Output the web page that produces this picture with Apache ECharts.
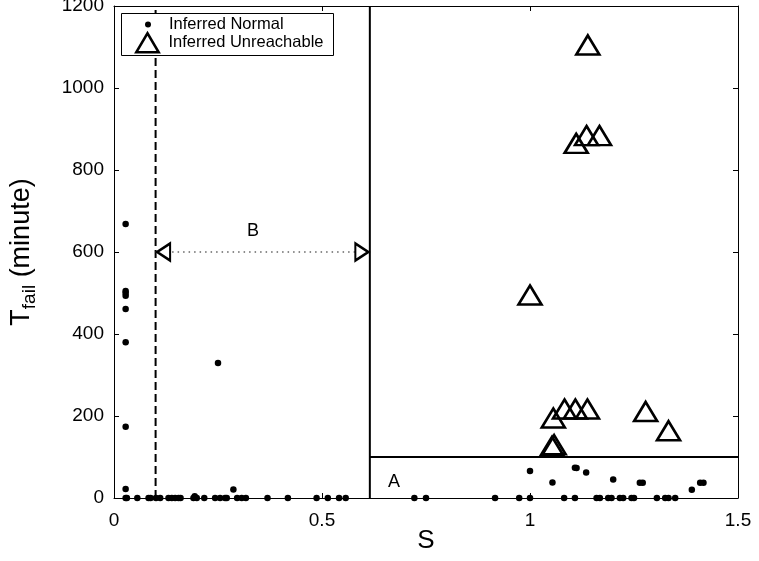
<!DOCTYPE html>
<html>
<head>
<meta charset="utf-8">
<script src="https://cdn.jsdelivr.net/npm/echarts@6/dist/echarts.min.js"></script>
<style>
html,body{margin:0;padding:0;background:#fff;}
#chart{width:759px;height:561px;}
</style>
</head>
<body>
<div id="chart"></div>
<script>
// ---- data ----
const xTicks = [0, 0.5, 1, 1.5];
const yTicks = [0, 200, 400, 600, 800, 1000, 1200];

const normalPoints = [
  [0.028, 668], [0.028, 505], [0.028, 500], [0.028, 493], [0.028, 461],
  [0.028, 380], [0.028, 174], [0.028, 22], [0.028, 0], [0.031, 0],
  [0.25, 329], [0.287, 21], [0.194, 4],
  [0.056, 0], [0.083, 0], [0.088, 0], [0.101, 0], [0.111, 0], [0.131, 0],
  [0.139, 0], [0.147, 0], [0.155, 0], [0.160, 0], [0.191, 0], [0.199, 0],
  [0.217, 0], [0.243, 0], [0.255, 0], [0.267, 0], [0.271, 0], [0.296, 0],
  [0.307, 0], [0.317, 0], [0.369, 0], [0.418, 0], [0.487, 0], [0.514, 0],
  [0.541, 0], [0.557, 0],
  [0.722, 0], [0.75, 0], [0.916, 0], [0.974, 0], [1.0, 0], [1.082, 0],
  [1.108, 0], [1.160, 0], [1.168, 0], [1.188, 0], [1.196, 0], [1.216, 0],
  [1.224, 0], [1.244, 0], [1.25, 0], [1.305, 0], [1.325, 0], [1.333, 0],
  [1.349, 0],
  [1.0, 66], [1.054, 38], [1.108, 74], [1.112, 73], [1.135, 62], [1.2, 45],
  [1.264, 37], [1.271, 37], [1.389, 20], [1.409, 37], [1.417, 37]
];

const unreachablePoints = [
  [1.139, 1105], [1.111, 865], [1.136, 884], [1.167, 884], [1.0, 495],
  [1.056, 195], [1.083, 217], [1.109, 217], [1.138, 217], [1.278, 211],
  [1.333, 164], [1.053, 126], [1.058, 130]
];

const sLow = 0.1;        // dashed boundary
const sSplit = 0.615;    // solid boundary
const tSplit = 100;      // horizontal boundary (region A)
const arrowT = 600;      // level of the B arrow
const regionLabels = [
  { name: 'B', value: [0.334, 650] },
  { name: 'A', value: [0.673, 39] }
];

// ---- chart ----
const FONT = 'Liberation Sans, Arial, Helvetica, sans-serif';
const chart = echarts.init(document.getElementById('chart'), null, { renderer: 'canvas' });

const xMin = xTicks[0], xMax = xTicks[xTicks.length - 1], xStep = xTicks[1] - xTicks[0];
const yMin = yTicks[0], yMax = yTicks[yTicks.length - 1], yStep = yTicks[1] - yTicks[0];

function xAx(pos, show) {
  return {
    type: 'value', position: pos, min: xMin, max: xMax, interval: xStep,
    axisLine: { show: true, onZero: false, lineStyle: { color: '#000', width: 1 } },
    axisTick: { show: true, inside: true, length: 5, lineStyle: { color: '#000', width: 1 } },
    axisLabel: { show: show, fontSize: 19, color: '#000', fontFamily: FONT, margin: 13,
                 formatter: v => String(v) },
    splitLine: { show: false }
  };
}
function yAx(pos, show) {
  return {
    type: 'value', position: pos, min: yMin, max: yMax, interval: yStep,
    axisLine: { show: true, onZero: false, lineStyle: { color: '#000', width: 1 } },
    axisTick: { show: true, inside: true, length: 5, lineStyle: { color: '#000', width: 1 } },
    axisLabel: { show: show, fontSize: 19, color: '#000', fontFamily: FONT, margin: 10,
                 formatter: v => String(v) },
    splitLine: { show: false }
  };
}

const xBottom = Object.assign(xAx('bottom', true), {
  name: 'S', nameLocation: 'middle', nameGap: 30, nameMoveOverlap: false,
  nameTextStyle: { fontSize: 26, color: '#000', fontFamily: FONT }
});
const yLeft = Object.assign(yAx('left', true), {
  name: '{t|T}{s|fail}{t| (minute)}', nameLocation: 'middle', nameGap: 75,
  nameTextStyle: {
    fontSize: 27, color: '#000', fontFamily: FONT,
    rich: {
      t: { fontSize: 27, lineHeight: 34, color: '#000', fontFamily: FONT },
      s: { fontSize: 19, lineHeight: 14, verticalAlign: 'bottom', color: '#000', fontFamily: FONT }
    }
  }
});

const option = {
  backgroundColor: '#fff',
  animation: false,
  grid: { left: 114, right: 21, top: 6, bottom: 63, containLabel: false, outerBoundsMode: 'none' },
  xAxis: [xBottom, xAx('top', false)],
  yAxis: [yLeft, yAx('right', false)],
  legend: [
    {
      data: ['Inferred Normal'], orient: 'vertical', left: 145, top: 16,
      itemWidth: 32, itemHeight: 6, padding: 0, selectedMode: false, z: 20,
      itemStyle: { opacity: 1 },
      textStyle: { fontSize: 16.5, color: '#000', fontFamily: FONT }
    },
    {
      data: [{ name: 'Inferred Unreachable', icon: 'path://M13,0L26,22L0,22Z' }],
      orient: 'vertical', left: 135, top: 32,
      itemWidth: 32, itemHeight: 19, padding: 0, selectedMode: false, z: 20,
      itemStyle: { borderWidth: 2.5, borderColor: '#000', color: 'rgba(0,0,0,0)', opacity: 1 },
      textStyle: { fontSize: 16.5, color: '#000', fontFamily: FONT }
    }
  ],
  graphic: [
    {
      type: 'rect', z: 15, silent: true,
      shape: { x: 121.5, y: 13.5, width: 212, height: 42 },
      style: { fill: '#fff', stroke: '#000', lineWidth: 1 }
    }
  ],
  series: [
    {
      name: 'boundaryLow', type: 'line', silent: true, symbol: 'none', z: 3,
      data: [[sLow, yMin], [sLow, yMax]],
      lineStyle: { color: '#000', width: 2, type: [8, 4] }
    },
    {
      name: 'boundarySplit', type: 'line', silent: true, symbol: 'none', z: 3,
      data: [[sSplit, yMin], [sSplit, yMax]],
      lineStyle: { color: '#000', width: 2, type: 'solid' }
    },
    {
      name: 'boundaryT', type: 'line', silent: true, symbol: 'none', z: 3,
      data: [[sSplit, tSplit], [xMax, tSplit]],
      lineStyle: { color: '#000', width: 2, type: 'solid' }
    },
    {
      name: 'arrowB', type: 'line', silent: true, z: 4,
      symbol: 'triangle', symbolSize: [17, 13], showAllSymbol: true,
      data: [
        { value: [sLow, arrowT], symbolRotate: 90, symbolOffset: [8, 0] },
        { value: [sSplit, arrowT], symbolRotate: -90, symbolOffset: [-8, 0] }
      ],
      itemStyle: { color: '#fff', borderColor: '#000', borderWidth: 2.3, opacity: 1 },
      lineStyle: { color: '#666', width: 1.5, type: [1.5, 4] }
    },
    {
      name: 'Inferred Normal', type: 'scatter', symbol: 'circle', symbolSize: 6.5, z: 5,
      data: normalPoints,
      itemStyle: { color: '#000', opacity: 1 }
    },
    {
      name: 'Inferred Unreachable', type: 'scatter', symbol: 'triangle', symbolSize: [23, 19], z: 6,
      data: unreachablePoints,
      itemStyle: { color: 'rgba(0,0,0,0)', borderColor: '#000', borderWidth: 2.6, opacity: 1 }
    },
    {
      name: 'regionLabels', type: 'scatter', symbolSize: 0, silent: true, z: 7,
      data: regionLabels,
      itemStyle: { opacity: 1 },
      label: { show: true, position: 'inside', formatter: '{b}', fontSize: 18, color: '#000',
               fontFamily: FONT, opacity: 1 }
    }
  ]
};
chart.setOption(option);
</script>
</body>
</html>
